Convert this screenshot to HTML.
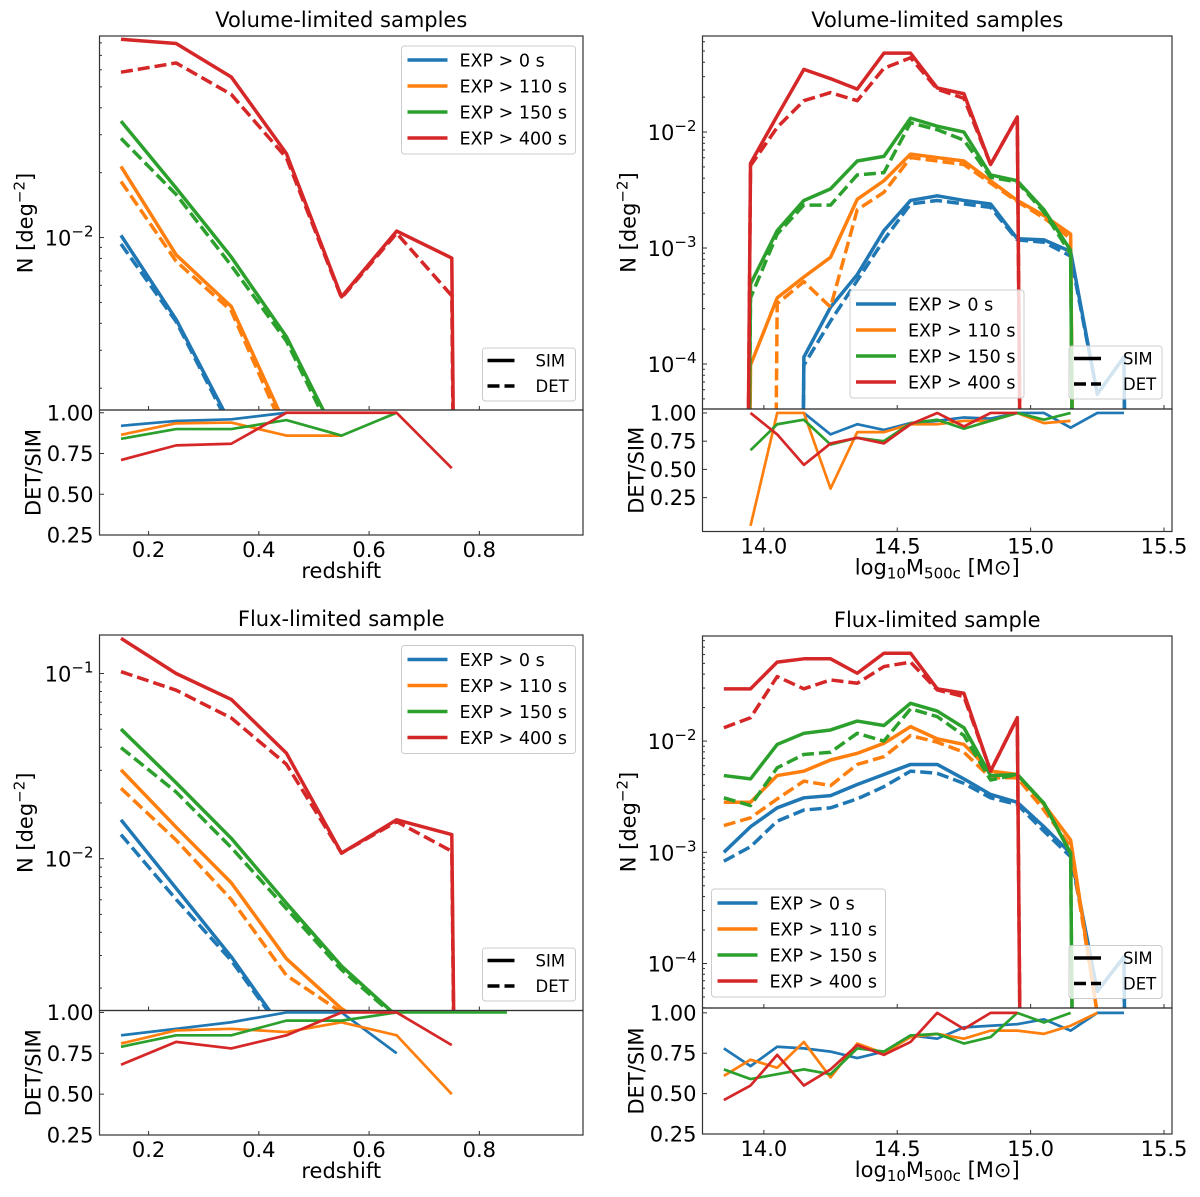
<!DOCTYPE html>
<html><head><meta charset="utf-8">
<style>
html,body{margin:0;padding:0;background:#fff;overflow:hidden;width:1200px;height:1197px;}
svg{display:block;overflow:hidden;font-family:"DejaVu Sans","Liberation Sans",sans-serif;}
</style></head>
<body>
<svg id="fig" width="1200" height="1197" viewBox="0 0 1200 1197" xmlns="http://www.w3.org/2000/svg"></svg>
<script>
// ---------- DATA (log10 N for main panels; null = zero count) ----------
const zBins = [0.15,0.25,0.35,0.45,0.55,0.65,0.75,0.85];
const mBins = [13.85,13.95,14.05,14.15,14.25,14.35,14.45,14.55,14.65,14.75,14.85,14.95,15.05,15.15,15.25,15.35,15.45];
const seriesNames = ["EXP > 0 s","EXP > 110 s","EXP > 150 s","EXP > 400 s"];
const zTicks = [0.2,0.4,0.6,0.8];
const zTickLabels = ["0.2","0.4","0.6","0.8"];
const mTicks = [14.0,14.5,15.0,15.5];
const mTickLabels = ["14.0","14.5","15.0","15.5"];
const ratioTicks = [0.25,0.50,0.75,1.00];
const ratioTickLabels = ["0.25","0.50","0.75","1.00"];

// Top-left: volume-limited, redshift
const tlBlueSimLog = [-1.99,-2.38,-2.87,null,null,null,null,null];
const tlBlueDetLog = [-2.03,-2.39,-2.89,null,null,null,null,null];
const tlOrangeSimLog = [-1.67,-2.08,-2.32,-2.88,null,null,null,null];
const tlOrangeDetLog = [-1.74,-2.11,-2.34,-2.92,null,null,null,null];
const tlGreenSimLog = [-1.46,-1.77,-2.09,-2.46,-2.97,null,null,null];
const tlGreenDetLog = [-1.54,-1.80,-2.13,-2.48,-3.00,null,null,null];
const tlRedSimLog = [-1.08,-1.10,-1.255,-1.61,-2.275,-1.97,-2.095,null];
const tlRedDetLog = [-1.233,-1.19,-1.336,-1.63,-2.28,-1.98,-2.27,null];
const tlBlueRatio = [0.92,0.95,0.96,1.0];
const tlOrangeRatio = [0.865,0.935,0.94,0.86,0.86];
const tlGreenRatio = [0.84,0.90,0.90,0.955,0.86,1.0];
const tlRedRatio = [0.71,0.80,0.81,1.0,1.0,1.0,0.66];

// Top-right: volume-limited, mass
const trBlueSimLog = [null,null,null,-3.94,-3.51,-3.23,-2.85,-2.59,-2.55,-2.59,-2.62,-2.92,-2.93,-3.03,-4.26,-3.94,null];
const trBlueDetLog = [null,null,null,-4.01,-3.63,-3.28,-2.93,-2.62,-2.59,-2.62,-2.65,-2.93,-2.95,-3.07,-4.26,-3.94,null];
const trOrangeSimLog = [null,-4.01,-3.43,-3.25,-3.08,-2.58,-2.42,-2.19,-2.22,-2.25,-2.42,-2.59,-2.72,-2.88,null,null,null];
const trOrangeDetLog = [null,null,-3.48,-3.29,-3.51,-2.67,-2.52,-2.22,-2.25,-2.28,-2.44,-2.60,-2.74,-2.92,null,null,null];
const trGreenSimLog = [null,-3.31,-2.85,-2.59,-2.49,-2.25,-2.21,-1.88,-1.95,-2.00,-2.37,-2.42,-2.67,-3.02,null,null,null];
const trGreenDetLog = [null,-3.43,-2.88,-2.63,-2.63,-2.37,-2.35,-1.92,-1.98,-2.07,-2.39,-2.43,-2.69,-3.05,null,null,null];
const trRedSimLog = [null,-2.27,-1.86,-1.46,-1.54,-1.63,-1.32,-1.32,-1.62,-1.67,-2.28,-1.87,null,null,null,null,null];
const trRedDetLog = [null,-2.29,-1.96,-1.73,-1.66,-1.73,-1.45,-1.36,-1.63,-1.71,-2.28,-1.87,null,null,null,null,null];
const trBlueRatio = [null,null,null,1.0,0.81,0.90,0.85,0.91,0.93,0.96,0.95,1.0,1.0,0.87,1.0,1.0];
const trOrangeRatio = [null,0.0,1.0,1.0,0.33,0.83,0.83,0.90,0.90,0.93,0.93,1.0,0.91,0.93];
const trGreenRatio = [null,0.67,0.90,0.94,0.72,0.78,0.75,0.91,0.94,0.86,0.93,1.0,0.94,1.0];
const trRedRatio = [null,1.0,0.81,0.54,0.73,0.78,0.73,0.90,1.0,0.88,1.0,1.0];

// Bottom-left: flux-limited, redshift
const blBlueSimLog = [-1.79,-2.16,-2.53,-2.95,-3.3,-3.6,null,null];
const blBlueDetLog = [-1.87,-2.22,-2.55,-2.96,-3.3,-3.7,null,null];
const blOrangeSimLog = [-1.52,-1.83,-2.13,-2.54,-2.81,-3.0,-3.2,null];
const blOrangeDetLog = [-1.62,-1.90,-2.22,-2.63,-2.83,-3.07,-3.5,null];
const blGreenSimLog = [-1.30,-1.59,-1.89,-2.24,-2.58,-2.85,-3.1,-3.3];
const blGreenDetLog = [-1.40,-1.64,-1.94,-2.27,-2.60,-2.86,-3.1,-3.3];
const blRedSimLog = [-0.81,-1.00,-1.14,-1.43,-1.97,-1.79,-1.87,null];
const blRedDetLog = [-0.99,-1.09,-1.24,-1.49,-1.97,-1.80,-1.96,null];
const blBlueRatio = [0.86,0.90,0.94,1.0,1.0,0.75];
const blOrangeRatio = [0.81,0.89,0.90,0.88,0.94,0.86,0.50];
const blGreenRatio = [0.79,0.86,0.86,0.95,0.95,1.0,1.0,1.0];
const blRedRatio = [0.68,0.82,0.78,0.86,1.0,1.0,0.80];

// Bottom-right: flux-limited, mass
const brBlueSimLog = [-3.00,-2.77,-2.60,-2.51,-2.49,-2.39,-2.30,-2.21,-2.21,-2.34,-2.48,-2.55,-2.77,-3.01,-4.25,-3.94,null];
const brBlueDetLog = [-3.08,-2.95,-2.72,-2.62,-2.60,-2.52,-2.41,-2.27,-2.29,-2.38,-2.51,-2.57,-2.81,-3.04,-4.25,-3.94,null];
const brOrangeSimLog = [-2.55,-2.55,-2.31,-2.27,-2.17,-2.11,-2.02,-1.87,-1.98,-2.03,-2.27,-2.30,-2.57,-2.89,-4.45,null,null];
const brOrangeDetLog = [-2.76,-2.69,-2.52,-2.36,-2.40,-2.21,-2.14,-1.95,-2.01,-2.10,-2.33,-2.33,-2.62,-2.95,-4.45,null,null];
const brGreenSimLog = [-2.31,-2.34,-2.03,-1.93,-1.90,-1.82,-1.86,-1.66,-1.73,-1.88,-2.31,-2.30,-2.56,-3.01,null,null,null];
const brGreenDetLog = [-2.51,-2.58,-2.24,-2.12,-2.10,-1.93,-2.00,-1.71,-1.78,-1.95,-2.35,-2.30,-2.56,-3.01,null,null,null];
const brRedSimLog = [-1.53,-1.53,-1.29,-1.26,-1.26,-1.39,-1.21,-1.21,-1.53,-1.57,-2.27,-1.79,null,null,null,null,null];
const brRedDetLog = [-1.88,-1.79,-1.42,-1.53,-1.45,-1.48,-1.33,-1.29,-1.54,-1.60,-2.27,-1.79,null,null,null,null,null];
const brBlueRatio = [0.78,0.67,0.79,0.78,0.76,0.72,0.76,0.86,0.84,0.91,0.92,0.93,0.96,0.89,1.0,1.0];
const brOrangeRatio = [0.61,0.71,0.66,0.82,0.60,0.81,0.75,0.85,0.87,0.84,0.89,0.89,0.87,0.92,1.0];
const brGreenRatio = [0.65,0.59,0.62,0.65,0.62,0.78,0.76,0.86,0.87,0.81,0.85,1.0,0.94,1.0];
const brRedRatio = [0.46,0.55,0.74,0.55,0.65,0.80,0.74,0.82,1.0,0.90,1.0,1.0];

const COLORS = ["#1f77b4","#ff7f0e","#2ca02c","#d62728"];
const NS = "http://www.w3.org/2000/svg";
const fig = document.getElementById("fig");
const FS = 21;

function mk(tag, attrs, parent){
  const e = document.createElementNS(NS, tag);
  for (const k in attrs) e.setAttribute(k, attrs[k]);
  (parent||fig).appendChild(e);
  return e;
}

let clipId = 0;
function panel(cfg){
  const g = mk("g", {});
  
  
  const W = cfg.x1 - cfg.x0;
  const xS = v => cfg.x0 + (v - cfg.xlim[0]) / (cfg.xlim[1]-cfg.xlim[0]) * W;
  const yS = v => cfg.ySplit - ((v===null? -30 : v) - cfg.ylog[0]) / (cfg.ylog[1]-cfg.ylog[0]) * (cfg.ySplit - cfg.y0);
  const rS = v => cfg.y1 - (v - cfg.rlim[0]) / (cfg.rlim[1]-cfg.rlim[0]) * (cfg.y1 - cfg.ySplit);

  const defs = mk("defs", {}, g);
  const c1 = "c" + (clipId++), c2 = "c" + (clipId++);
  const cp1 = mk("clipPath", {id:c1}, defs);
  mk("rect", {x:cfg.x0, y:cfg.y0, width:W, height:cfg.ySplit-cfg.y0}, cp1);
  const cp2 = mk("clipPath", {id:c2}, defs);
  mk("rect", {x:cfg.x0, y:cfg.ySplit, width:W, height:cfg.y1-cfg.ySplit}, cp2);

  const mg = mk("g", {"clip-path":"url(#"+c1+")"}, g);
  cfg.main.forEach((pair, i) => {
    ["sim","det"].forEach((kind, k) => {
      const arr = pair[k];
      const d = arr.map((v, j) => (j?"L":"M") + xS(cfg.bins[j]).toFixed(2) + "," + yS(v).toFixed(2)).join(" ");
      const p = mk("path", {d:d, fill:"none", stroke:COLORS[i], "stroke-width":3.5, "stroke-linejoin":"round"}, mg);
      if (k===1) p.setAttribute("stroke-dasharray", "12,5");
      
      
    });
  });
  const rg = mk("g", {"clip-path":"url(#"+c2+")"}, g);
  cfg.ratio.forEach((arr, i) => {
    let d = "", started = false;
    arr.forEach((v, j) => {
      if (v === null) return;
      d += (started?"L":"M") + xS(cfg.bins[j]).toFixed(2) + "," + rS(v).toFixed(2) + " ";
      started = true;
    });
    const p = mk("path", {d:d, fill:"none", stroke:COLORS[i], "stroke-width":2.7, "stroke-linejoin":"round"}, rg);
    
    
  });

  mk("rect", {x:cfg.x0, y:cfg.y0, width:W, height:cfg.ySplit-cfg.y0, fill:"none", stroke:"#333", "stroke-width":1.2}, g);
  mk("rect", {x:cfg.x0, y:cfg.ySplit, width:W, height:cfg.y1-cfg.ySplit, fill:"none", stroke:"#333", "stroke-width":1.2}, g);

  cfg.xticks.forEach((t, j) => {
    const x = xS(t);
    mk("line", {x1:x, x2:x, y1:cfg.ySplit, y2:cfg.ySplit-4, stroke:"#333", "stroke-width":1}, g);
    mk("line", {x1:x, x2:x, y1:cfg.y1, y2:cfg.y1-4, stroke:"#333", "stroke-width":1}, g);
    const tx = mk("text", {x:x, y:cfg.y1+22, "font-size":FS, "text-anchor":"middle", fill:"#000"}, g);
    tx.textContent = cfg.xtickLabels[j];
    
    
  });
  for (let dec = Math.floor(cfg.ylog[0]); dec <= Math.ceil(cfg.ylog[1]); dec++) {
    for (let m = 1; m <= 9; m++) {
      const lv = dec + Math.log10(m);
      if (lv < cfg.ylog[0] || lv > cfg.ylog[1]) continue;
      const y = yS(lv);
      mk("line", {x1:cfg.x0, x2:cfg.x0 + (m===1?4.5:2.5), y1:y, y2:y, stroke:"#333", "stroke-width":1}, g);
      if (m===1) {
        const tx = mk("text", {x:cfg.x0-6, y:y+8, "font-size":FS, "text-anchor":"end", fill:"#000"}, g);
        tx.innerHTML = '10<tspan dy="-9" font-size="15">−' + (-dec) + '</tspan>';
        
        
      }
    }
  }
  ratioTicks.forEach((t, j) => {
    const y = rS(t);
    mk("line", {x1:cfg.x0, x2:cfg.x0+4.5, y1:y, y2:y, stroke:"#333", "stroke-width":1}, g);
    const tx = mk("text", {x:cfg.x0-6, y:y+7.5, "font-size":FS, "text-anchor":"end", fill:"#000"}, g);
    tx.textContent = ratioTickLabels[j];
    
    
  });

  const cx = (cfg.x0 + cfg.x1)/2;
  const tt = mk("text", {x:cx, y:cfg.y0-9, "font-size":FS, "text-anchor":"middle", fill:"#000"}, g);
  tt.textContent = cfg.title;
  
  
  const xl = mk("text", {x:cx, y:cfg.y1+43, "font-size":FS, "text-anchor":"middle", fill:"#000"}, g);
  if (cfg.mass) xl.innerHTML = 'log<tspan font-size="15" dy="4">10</tspan><tspan dy="-4">M</tspan><tspan font-size="15" dy="4">500c</tspan><tspan dy="-4"> [M⊙]</tspan>';
  else xl.textContent = "redshift";
  
  
  const ymid = (cfg.y0 + cfg.ySplit)/2;
  const yl = mk("text", {x:0, y:0, "font-size":FS, "text-anchor":"middle", fill:"#000", transform:"translate("+(cfg.x0-67)+","+ymid+") rotate(-90)"}, g);
  yl.innerHTML = 'N [deg<tspan dy="-8" font-size="15">−2</tspan><tspan dy="8">]</tspan>';
  
  
  const rmid = (cfg.ySplit + cfg.y1)/2;
  const rl = mk("text", {x:0, y:0, "font-size":FS, "text-anchor":"middle", fill:"#000", transform:"translate("+(cfg.x0-59)+","+rmid+") rotate(-90)"}, g);
  rl.textContent = "DET/SIM";
  
  

  const L = cfg.leg;
  const lg = mk("g", {}, g);
  
  
  mk("rect", {x:L.x, y:L.y, width:174, height:108, rx:3, fill:"#fff", "fill-opacity":0.8, stroke:"#ccc", "stroke-width":1}, lg);
  seriesNames.forEach((n, i) => {
    const yy = L.y + 14 + i*26;
    mk("line", {x1:L.x+6, x2:L.x+46, y1:yy, y2:yy, stroke:COLORS[i], "stroke-width":3.5}, lg);
    const t = mk("text", {x:L.x+58, y:yy+6.5, "font-size":17.5, fill:"#000"}, lg);
    t.textContent = n;
    
    
  });
  const S = cfg.sleg;
  const sg = mk("g", {}, g);
  
  
  mk("rect", {x:S.x, y:S.y, width:93, height:53, rx:3, fill:"#fff", "fill-opacity":0.8, stroke:"#ccc", "stroke-width":1}, sg);
  [["SIM",null],["DET","12,5"]].forEach((e, i) => {
    const yy = S.y + 12.5 + i*25.5;
    const ln = mk("line", {x1:S.x+5, x2:S.x+32, y1:yy, y2:yy, stroke:"#000", "stroke-width":3.5}, sg);
    if (e[1]) ln.setAttribute("stroke-dasharray", "12,5");
    const t = mk("text", {x:S.x+(cfg.mass?54:53), y:yy+6, "font-size":16.5, fill:"#000", "text-anchor":"start"}, sg);
    t.textContent = e[0];
    
    
  });
}

panel({name:"panel-volume-redshift", title:"Volume-limited samples", x0:99.5, x1:583, y0:36, ySplit:410, y1:535,
  xlim:[0.111,0.988], ylog:[-2.80,-1.065], rlim:[0.25,1.017], bins:zBins, xticks:zTicks, xtickLabels:zTickLabels, mass:false,
  main:[[tlBlueSimLog,tlBlueDetLog],[tlOrangeSimLog,tlOrangeDetLog],[tlGreenSimLog,tlGreenDetLog],[tlRedSimLog,tlRedDetLog]],
  ratio:[tlBlueRatio,tlOrangeRatio,tlGreenRatio,tlRedRatio],
  leg:{x:401.5,y:46}, sleg:{x:482.5,y:348}});

panel({name:"panel-volume-mass", title:"Volume-limited samples", x0:702.5, x1:1172, y0:36, ySplit:409, y1:531.5,
  xlim:[13.77,15.53], ylog:[-4.388,-1.172], rlim:[-0.05,1.035], bins:mBins, xticks:mTicks, xtickLabels:mTickLabels, mass:true,
  main:[[trBlueSimLog,trBlueDetLog],[trOrangeSimLog,trOrangeDetLog],[trGreenSimLog,trGreenDetLog],[trRedSimLog,trRedDetLog]],
  ratio:[trBlueRatio,trOrangeRatio,trGreenRatio,trRedRatio],
  leg:{x:850,y:290}, sleg:{x:1069,y:346}});

panel({name:"panel-flux-redshift", title:"Flux-limited sample", x0:99.5, x1:583, y0:635, ySplit:1010.5, y1:1135,
  xlim:[0.111,0.988], ylog:[-2.82,-0.792], rlim:[0.25,1.012], bins:zBins, xticks:zTicks, xtickLabels:zTickLabels, mass:false,
  main:[[blBlueSimLog,blBlueDetLog],[blOrangeSimLog,blOrangeDetLog],[blGreenSimLog,blGreenDetLog],[blRedSimLog,blRedDetLog]],
  ratio:[blBlueRatio,blOrangeRatio,blGreenRatio,blRedRatio],
  leg:{x:401.5,y:645.5}, sleg:{x:482.5,y:948}});

panel({name:"panel-flux-mass", title:"Flux-limited sample", x0:702.5, x1:1172, y0:636, ySplit:1008, y1:1134,
  xlim:[13.77,15.53], ylog:[-4.40,-1.055], rlim:[0.25,1.03], bins:mBins, xticks:mTicks, xtickLabels:mTickLabels, mass:true,
  main:[[brBlueSimLog,brBlueDetLog],[brOrangeSimLog,brOrangeDetLog],[brGreenSimLog,brGreenDetLog],[brRedSimLog,brRedDetLog]],
  ratio:[brBlueRatio,brOrangeRatio,brGreenRatio,brRedRatio],
  leg:{x:711.5,y:889}, sleg:{x:1069,y:945.5}});
</script>
</body></html>
